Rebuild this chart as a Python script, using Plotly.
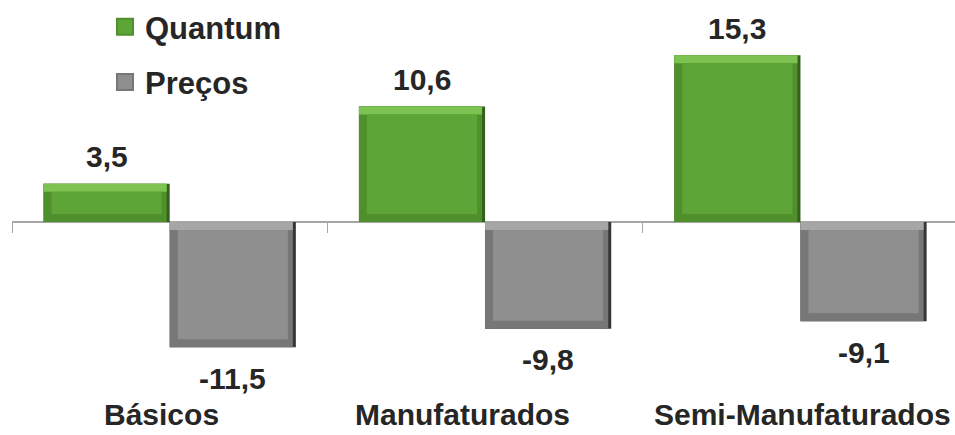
import plotly.graph_objects as go

# ---------------- data ----------------
categories = ["Básicos", "Manufaturados", "Semi-Manufaturados"]
series_names = ["Quantum", "Preços"]
quantum = [3.5, 10.6, 15.3]
precos = [-11.5, -9.8, -9.1]

# ---------------- styling / layout constants ----------------
W, H = 955, 435
M_L, M_R, M_T, M_B = 12, 0, 0, 0
X_RANGE = [-0.5, 2.49]
Y_RANGE = [-19.54, 20.37]
BAR_W = 0.4
FONT = "Liberation Sans, Arial, sans-serif"
TXT = "#262626"
FS = 30

px_x = (W - M_L - M_R) / (X_RANGE[1] - X_RANGE[0])
px_y = (H - M_T - M_B) / (Y_RANGE[1] - Y_RANGE[0])

styles = {
    "Quantum": dict(edge="#345f1c", side="#4f902c", top="#7dc352",
                    face="#5ea537", offset=-BAR_W),
    "Preços": dict(edge="#363636", side="#777777", top="#a6a6a6",
                   face="#8f8f8f", offset=0.0),
}

fig = go.Figure()
xs = list(range(len(categories)))


def bar(lo, hi, offset, width, color):
    fig.add_trace(go.Bar(x=xs, y=[h - l for l, h in zip(lo, hi)], base=lo,
                         offset=offset, width=width,
                         marker=dict(color=color, line=dict(width=0)),
                         showlegend=False, hoverinfo="skip"))


def layered(name, values):
    st = styles[name]
    lo = [min(0, v) for v in values]
    hi = [max(0, v) for v in values]
    e_x, e_y = 3 / px_x, 3 / px_y
    b_x, b_y = 8 / px_x, 8 / px_y
    # outer dark edge (shows on right side)
    bar(lo, hi, st["offset"], BAR_W, st["edge"])
    # side/bottom tone
    bar(lo, hi, st["offset"], BAR_W - e_x, st["side"])
    # light top bevel
    bar([h - b_y for h in hi], hi, st["offset"], BAR_W - e_x, st["top"])
    # face
    bar([l + b_y for l in lo], [h - b_y for h in hi],
        st["offset"] + b_x, BAR_W - 2 * b_x, st["face"])
    # legend entry
    fig.add_trace(go.Scatter(x=[None], y=[None], mode="markers", name=name,
                             marker=dict(symbol="square", size=16,
                                         color=st["face"],
                                         line=dict(color=st["side"], width=2)),
                             showlegend=True, legendgroup=name,
                             hoverinfo="skip"))


layered("Quantum", quantum)
layered("Preços", precos)

ann = []


def fmt(v):
    return f"{v:.1f}".replace(".", ",")


for i, v in enumerate(quantum):
    ann.append(dict(x=i - BAR_W / 2, y=v, xref="x", yref="y", text=fmt(v),
                    showarrow=False, yanchor="middle", yshift=27,
                    font=dict(family=FONT, size=FS, color=TXT, weight="bold")))
for i, v in enumerate(precos):
    ann.append(dict(x=i + BAR_W / 2, y=v, xref="x", yref="y", text=fmt(v),
                    showarrow=False, yanchor="middle", yshift=-31,
                    font=dict(family=FONT, size=FS, color=TXT, weight="bold")))

cat_shift = [-8, -23, 2]
for i, c in enumerate(categories):
    ann.append(dict(x=i, y=1 - 414 / H, xref="x", yref="paper", text=c,
                    showarrow=False, yanchor="middle", xshift=cat_shift[i],
                    font=dict(family=FONT, size=FS, color=TXT, weight="bold")))

zero_pos = (0 - Y_RANGE[0]) / (Y_RANGE[1] - Y_RANGE[0])

fig.update_layout(
    width=W, height=H,
    margin=dict(l=M_L, r=M_R, t=M_T, b=M_B),
    paper_bgcolor="white", plot_bgcolor="white",
    barmode="overlay",
    showlegend=True,
    legend=dict(x=(105 - M_L) / (W - M_L - M_R), xanchor="left",
                y=1.0, yanchor="top", traceorder="grouped", tracegroupgap=12,
                font=dict(family=FONT, size=31, color=TXT, weight="bold"),
                bgcolor="rgba(0,0,0,0)"),
    xaxis=dict(range=X_RANGE, anchor="free", position=zero_pos,
               showline=True, linecolor="#a6a6a6", linewidth=2,
               ticks="outside", tickvals=[-0.5, 0.5, 1.5], ticklen=10,
               tickcolor="#a6a6a6", tickwidth=1, showticklabels=False,
               showgrid=False, zeroline=False, layer="below traces",
               fixedrange=True),
    yaxis=dict(range=Y_RANGE, visible=False, showgrid=False, zeroline=False,
               fixedrange=True),
    annotations=ann,
)

fig.write_html("out.html")
